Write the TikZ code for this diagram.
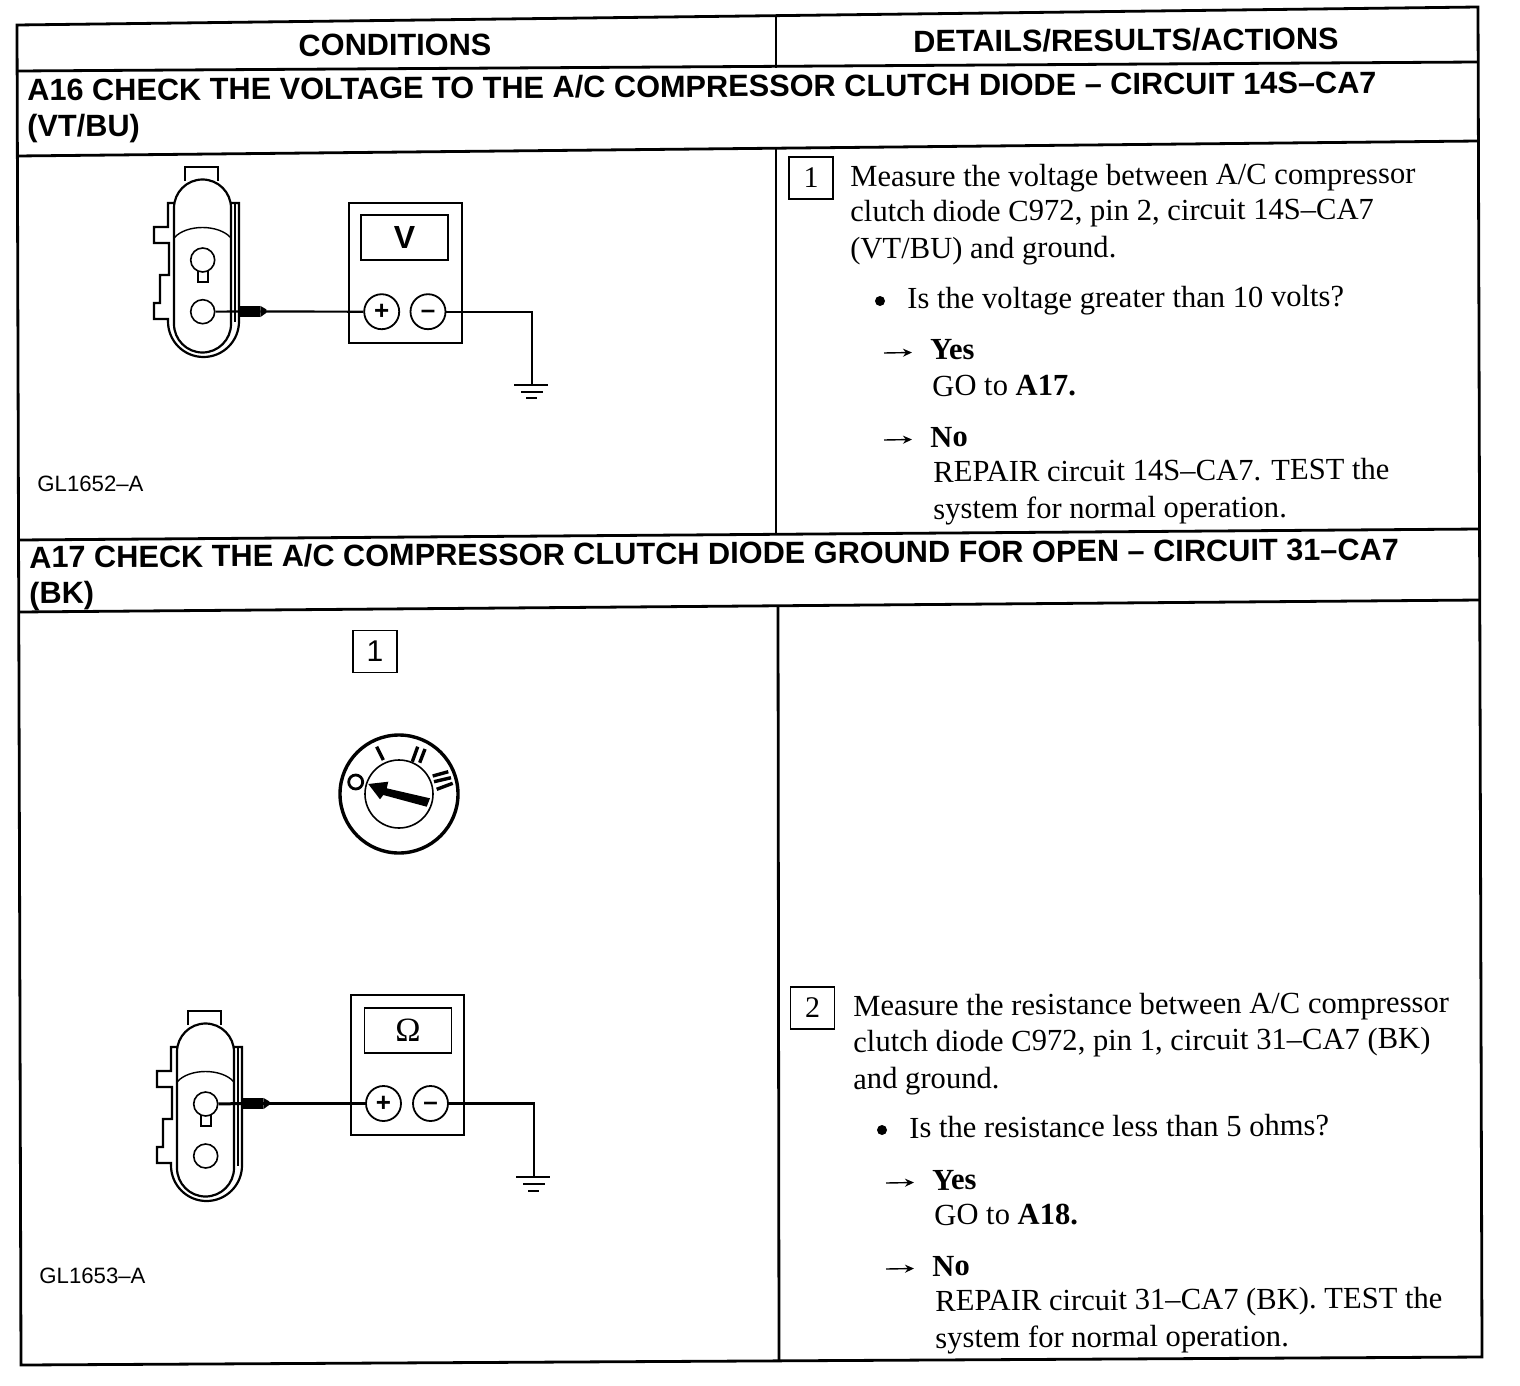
\documentclass[tikz,border=0pt]{standalone}
\usepackage{fontspec}
\usetikzlibrary{arrows.meta}
\setmainfont{Liberation Serif}
\setsansfont{Liberation Sans}
\tikzset{
  x=0.5pt,y=-0.5pt,
  rule/.style={line width=1.4pt,black},
  thinline/.style={line width=1.1pt,black},
  wire/.style={line width=1.1pt,black},
  head/.style={font=\sffamily\bfseries\fontsize{15.35}{18}\selectfont,inner sep=0pt,anchor=center,rotate=0.33},
  title/.style={font=\sffamily\bfseries\fontsize{15.35}{18}\selectfont,inner sep=0pt,anchor=base west,rotate=0.33},
  body/.style={font=\fontsize{15.3}{18}\selectfont,inner sep=0pt,anchor=base west,rotate=0.33},
  code/.style={font=\sffamily\fontsize{11.1}{12}\selectfont,inner sep=0pt,anchor=base west},
  numbox/.style={draw,line width=0.9pt,minimum width=22pt,minimum height=21pt,inner sep=0pt,font=\sffamily\fontsize{15}{16}\selectfont},
  meter/.style={draw,line width=1.2pt,minimum width=56.5pt,minimum height=70pt,inner sep=0pt},
  display/.style={draw,line width=0.9pt,minimum width=43.5pt,minimum height=22.5pt,inner sep=0pt},
  term/.style={circle,draw,fill=white,line width=0.9pt,minimum size=17.5pt,inner sep=0pt,font=\sffamily\bfseries\fontsize{13}{13}\selectfont},
  hole/.style={circle,draw,fill=white,line width=0.8pt,minimum size=12pt,inner sep=0pt},
  probe/.style={fill=black,minimum width=10pt,minimum height=5.2pt,inner sep=0pt},
  dot/.style={circle,fill=black,minimum size=5pt,inner sep=0pt},
  pointer/.style={line width=0.7pt,-{Stealth[length=4.5pt,width=4pt]}},
  tick/.style={line width=1.7pt,black},
}
\newcommand{\plugshape}[2]{%
  \begin{scope}[shift={(#1,#2)}]
    \draw[thinline] (185,181) -- (185,167) -- (218,167) -- (218,181);
    \draw[thinline] (174,208) arc[start angle=180,end angle=360,radius=28.5]
       -- (231,324) arc[start angle=0,end angle=180,radius=28.5] -- cycle;
    \draw[thinline] (174,203) -- (168,203) -- (168,227) -- (154,227) -- (154,243) -- (169,243)
       -- (169,275) -- (160,275) -- (160,303) -- (154,303) -- (154,319) -- (168,319)
       -- (168,321.5) arc[start angle=180,end angle=0,radius=35.5] -- (239,203) -- (231,203);
    \draw[line width=0.6pt] (235,203) -- (235,322);
    \draw[line width=0.7pt] (174,238) .. controls (186,224) and (219,224) .. (231,238);
    \draw[line width=0.8pt] (198,271) rectangle (208,282);
  \end{scope}}
\newcommand{\minusmark}{\raisebox{-3.4pt}[0pt][0pt]{–}}
\begin{document}
\begin{tikzpicture}
\useasboundingbox (0,0) rectangle (1520,1386);
% table frame
\draw[rule] (17,25) -- (1478,7) -- (1482,1357) -- (21,1365) -- cycle;
\draw[rule] (17,71) -- (1478,62);
\draw[rule] (17,156) -- (1478,141);
\draw[rule] (18,540) -- (1480,529);
\draw[rule] (19,612) -- (1480,600);
\draw[rule] (776,16) -- (776,68);
\draw[rule] (776,148) -- (776,535);
\draw[rule] (778,606) -- (779,1361);
% headings
\node[head] (h1) at (395,45) {CONDITIONS};
\node[head] (h2) at (1126,40) {DETAILS/RESULTS/ACTIONS};
\node[title] (t16) at (27,101) {A16 CHECK THE VOLTAGE TO THE A/C COMPRESSOR CLUTCH DIODE – CIRCUIT 14S–CA7};
\node[title] (t16b) at (27,137) {(VT/BU)};
\node[title] (t17) at (29,568) {A17 CHECK THE A/C COMPRESSOR CLUTCH DIODE GROUND FOR OPEN – CIRCUIT 31–CA7};
\node[title] (t17b) at (29,604) {(BK)};
% A16 figure
\plugshape{0}{0}
\node[hole] (holeAa) at (202.7,260) {};
\node[hole] (holeAb) at (202.7,311.7) {};
\node[meter] (meterA) at (405.5,273) {};
\node[display] (dispA) at (404.5,237.5) {\sffamily\bfseries\fontsize{16}{16}\selectfont V};
\node[term] (plusA) at (381.7,311.7) {+};
\node[term] (minusA) at (428,311.7) {\minusmark};
\node[probe] (probeA) at (250,311.5) {};
\coordinate (gndA) at (531.7,385);
\draw[wire] (holeAb) -- (probeA) -- (plusA);
\fill (probeA.north east) -- ++(6,3.5) -- ++(0,3.4) -- (probeA.south east) -- cycle;
\draw[wire] (minusA) -| (gndA);
\draw[wire] (514,385) -- (gndA) -- (548,385);
\draw[wire] (521,391.7) -- (543,391.7);
\draw[wire] (526,398) -- (537,398);
\node[code] (c1) at (37,491) {GL1652–A};
% A16 text
\node[numbox] (n1) at (811,178) {\rmfamily 1};
\node[body] (a1) at (850,187) {Measure the voltage between A/C compressor};
\node[body] (a2) at (850,222) {clutch diode C972, pin 2, circuit 14S–CA7};
\node[body] (a3) at (850,259) {(VT/BU) and ground.};
\node[dot] (a4) at (880,301) {};
\node[body] (a5) at (907,309) {Is the voltage greater than 10 volts?};
\coordinate (a6s) at (884,353); \coordinate (a6e) at (912,352.5);
\draw[pointer] (a6s) -- (a6e);
\node[body] (a7) at (930,360) {\textbf{Yes}};
\node[body] (a8) at (932,396) {GO to \textbf{A17.}};
\coordinate (a9s) at (884,440); \coordinate (a9e) at (912,439.5);
\draw[pointer] (a9s) -- (a9e);
\node[body] (a10) at (930,447) {\textbf{No}};
\node[body] (a11) at (933,482) {REPAIR circuit 14S–CA7. TEST the};
\node[body] (a12) at (933,519) {system for normal operation.};
% A17 switch
\node[numbox] (n2) at (375,651.5) {1};
\node[circle,draw,line width=1.7pt,minimum size=59pt,inner sep=0pt] (dial) at (399,794) {};
\node[circle,draw,line width=0.8pt,minimum size=34pt,inner sep=0pt] (knob) at (399,794) {};
\node[circle,draw,line width=1.4pt,minimum size=7pt,inner sep=0pt] (pos0) at (355.7,782) {};
\draw[tick] (376.7,746.7) -- (383.3,760);
\draw[tick] (417.7,746.7) -- (412.3,761.7);
\draw[tick] (425,749) -- (419.7,762.7);
\draw[tick] (432.7,776) -- (448.3,771.7);
\draw[tick] (434,781.7) -- (451,777.7);
\draw[tick] (436.7,789.3) -- (452.7,783.3);
\fill (368.3,784) -- (388.3,781.7) -- (386.7,788.3) -- (430,798.3) -- (426.7,806.7) -- (383.3,795) -- (380,799.3) -- cycle;
% A17 figure
\plugshape{3}{844}
\node[hole] (holeBa) at (205.7,1104) {};
\node[hole] (holeBb) at (205.7,1156) {};
\node[meter] (meterB) at (407.5,1065) {};
\node[display] (dispB) at (408,1030.5) {\rmfamily\fontsize{17}{17}\selectfont Ω};
\node[term] (plusB) at (383.5,1103.5) {+};
\node[term] (minusB) at (430.5,1103.5) {\minusmark};
\node[probe] (probeB) at (253,1103.5) {};
\coordinate (gndB) at (534,1177);
\draw[wire,line width=1.5pt] (holeBa) -- (probeB);
\draw[wire] (probeB) -- (plusB);
\fill (probeB.north east) -- ++(6,3.5) -- ++(0,3.4) -- (probeB.south east) -- cycle;
\draw[wire] (minusB) -| (gndB);
\draw[wire] (516,1177) -- (gndB) -- (550,1177);
\draw[wire] (523,1184) -- (545,1184);
\draw[wire] (528,1191) -- (539,1191);
\node[code] (c2) at (39,1283) {GL1653–A};
% A17 text
\node[numbox] (n3) at (812.5,1008) {\rmfamily 2};
\node[body] (b1) at (853,1016) {Measure the resistance between A/C compressor};
\node[body] (b2) at (853,1052) {clutch diode C972, pin 1, circuit 31–CA7 (BK)};
\node[body] (b3) at (853,1089) {and ground.};
\node[dot] (b4) at (882,1130) {};
\node[body] (b5) at (909,1138) {Is the resistance less than 5 ohms?};
\coordinate (b6s) at (886,1183); \coordinate (b6e) at (914,1182.5);
\draw[pointer] (b6s) -- (b6e);
\node[body] (b7) at (932,1190) {\textbf{Yes}};
\node[body] (b8) at (934,1225) {GO to \textbf{A18.}};
\coordinate (b9s) at (886,1269); \coordinate (b9e) at (914,1268.5);
\draw[pointer] (b9s) -- (b9e);
\node[body] (b10) at (932,1276) {\textbf{No}};
\node[body] (b11) at (935,1311) {REPAIR circuit 31–CA7 (BK). TEST the};
\node[body] (b12) at (935,1348) {system for normal operation.};
\end{tikzpicture}
\end{document}
